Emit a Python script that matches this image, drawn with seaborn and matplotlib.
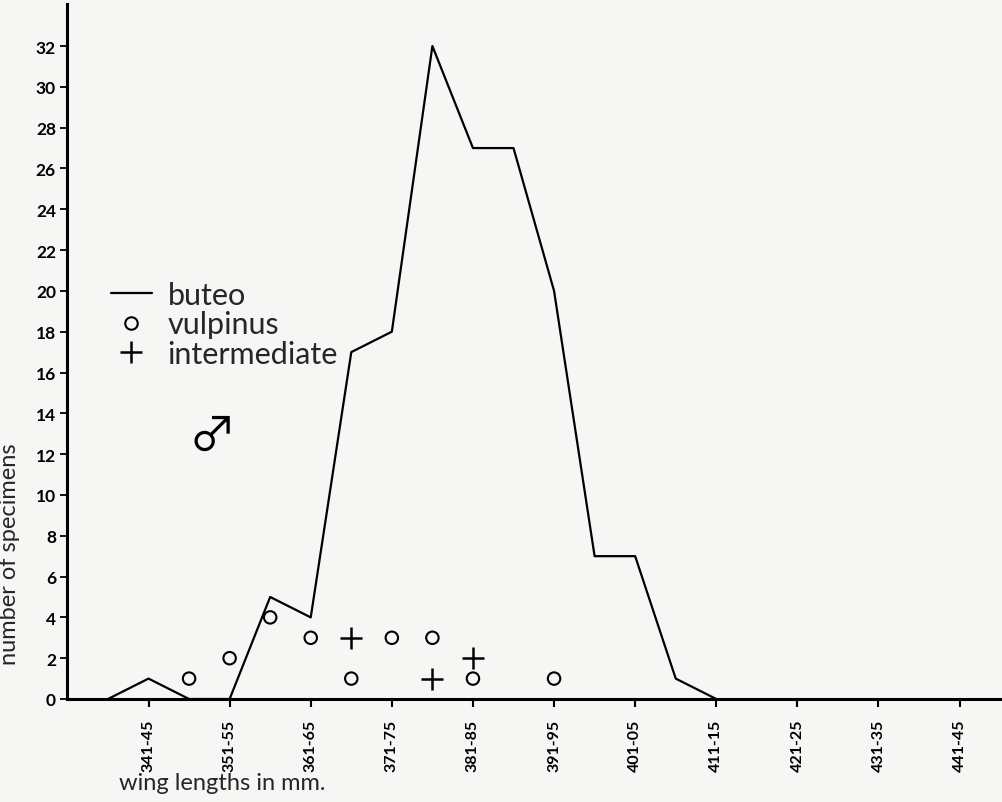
import matplotlib
matplotlib.use("Agg")
import matplotlib.pyplot as plt
from matplotlib.lines import Line2D
import seaborn as sns
import pandas as pd

# ---- data ----
classes = ["336-40", "341-45", "346-50", "351-55", "356-60", "361-65", "366-70",
           "371-75", "376-80", "381-85", "386-90", "391-95", "396-00", "401-05",
           "406-10", "411-15", "416-20", "421-25", "426-30", "431-35", "436-40",
           "441-45"]
tick_labels = ["341-45", "351-55", "361-65", "371-75", "381-85", "391-95",
               "401-05", "411-15", "421-25", "431-35", "441-45"]

buteo_classes = classes[:16]
buteo_counts = [0, 1, 0, 0, 5, 4, 17, 18, 32, 27, 27, 20, 7, 7, 1, 0]

vulpinus_classes = ["346-50", "351-55", "356-60", "361-65", "366-70", "371-75",
                    "376-80", "381-85", "391-95"]
vulpinus_counts = [1, 2, 4, 3, 1, 3, 3, 1, 1]

intermediate_classes = ["366-70", "376-80", "381-85"]
intermediate_counts = [3, 1, 2]

y_ticks = list(range(0, 33, 2))

# ---- style ----
sns.set_theme(style="ticks")
plt.rcParams["font.family"] = ["Lato", "DejaVu Sans"]
bg = "#f6f6f4"

pos = {c: i for i, c in enumerate(classes)}
df_b = pd.DataFrame({"x": [pos[c] for c in buteo_classes], "y": buteo_counts})
df_v = pd.DataFrame({"x": [pos[c] for c in vulpinus_classes], "y": vulpinus_counts})
df_i = pd.DataFrame({"x": [pos[c] for c in intermediate_classes], "y": intermediate_counts})

fig = plt.figure(figsize=(10.03, 8.03), dpi=100, facecolor=bg)
ax = fig.add_axes([67 / 1003, 103 / 803, 936 / 1003, 695 / 803])
ax.set_facecolor(bg)

sns.lineplot(data=df_b, x="x", y="y", color="black", linewidth=1.6, ax=ax,
             zorder=3)
sns.scatterplot(data=df_v, x="x", y="y", marker="o", s=80, facecolor="none",
                edgecolor="black", linewidth=1.5, ax=ax, zorder=4)
sns.scatterplot(data=df_i, x="x", y="y", marker="+", s=260, color="black",
                linewidth=1.8, ax=ax, zorder=4)

ax.set_xlim(-1.01, 22.07)
ax.set_ylim(0, 34.06)

ax.set_xticks([pos[c] for c in tick_labels])
ax.set_xticklabels(tick_labels, rotation=90, fontsize=11.5, fontweight="bold")
ax.set_yticks(y_ticks)
ax.set_yticklabels([str(v) for v in y_ticks], fontsize=12.5, fontweight="bold")

for s in ["top", "right"]:
    ax.spines[s].set_visible(False)
for s in ["left", "bottom"]:
    ax.spines[s].set_linewidth(2.2)
    ax.spines[s].set_color("black")
ax.tick_params(axis="x", direction="out", length=6, width=1.5, pad=8,
               colors="black")
ax.tick_params(axis="y", direction="out", length=5, width=1.3, pad=3,
               colors="black")

ax.set_xlabel("wing lengths in mm.", fontsize=17)
ax.xaxis.set_label_coords(0.166, -0.105)
ax.set_ylabel("number of specimens", fontsize=17)
ax.yaxis.set_label_coords(-0.050, 0.21)

handles = [
    Line2D([], [], color="black", linewidth=1.6),
    Line2D([], [], color="black", marker="o", linestyle="none",
           markerfacecolor="none", markersize=9, markeredgewidth=1.5),
    Line2D([], [], color="black", marker="+", linestyle="none",
           markersize=16, markeredgewidth=1.8),
]
ax.legend(handles, ["buteo", "vulpinus", "intermediate"], loc="upper left",
          bbox_to_anchor=(0.024, 0.632), frameon=False, fontsize=22,
          handlelength=1.35, handletextpad=0.5, labelspacing=0.04,
          borderpad=0.2)

ax.text(0.155, 0.377, "\u2642", transform=ax.transAxes, fontsize=34,
        family=["Noto Sans CJK JP", "DejaVu Sans"], ha="center", va="center",
        color="black")

fig.savefig("out.png", dpi=100, facecolor=bg)
